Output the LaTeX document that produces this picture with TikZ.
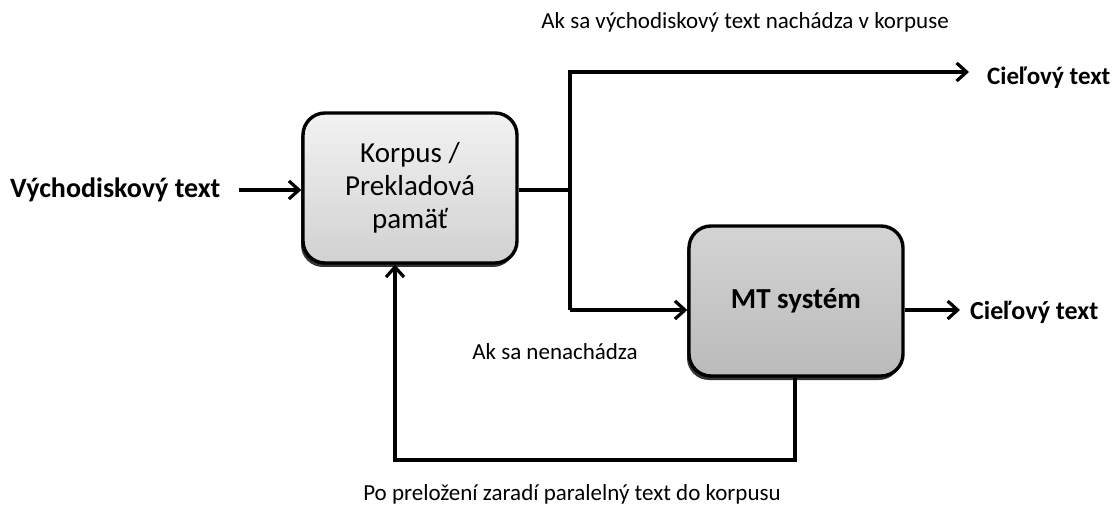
\documentclass[tikz,border=0pt]{standalone}
\usepackage{fontspec}
\setmainfont{Carlito}
\usetikzlibrary{arrows.meta,shadows}
\begin{document}
\begin{tikzpicture}[x=1pt,y=-1pt,
  flow/.style={line width=3.6pt,-{Straight Barb[length=10pt,width=18pt,line width=3.2pt]}},
  link/.style={line width=3.6pt},
  block/.style={draw,line width=3.4pt,rounded corners=22pt,minimum width=214pt,
    minimum height=150pt,align=center,
    drop shadow={shadow xshift=-2pt,shadow yshift=-4pt,fill=black!80,opacity=1}},
  io/.style={font=\fontsize{28}{32}\selectfont\bfseries,inner sep=0pt},
  note/.style={font=\fontsize{23}{27}\selectfont,inner sep=0pt}]
\useasboundingbox (0,0) rectangle (1118,510);
% processing blocks
\node[block,top color=black!5,bottom color=black!18,
  font=\fontsize{29}{33}\selectfont] (corp) at (410,188) {Korpus /\\Prekladová\\pamäť};
\node[block,top color=black!17,bottom color=black!27,
  font=\fontsize{29}{33}\selectfont\bfseries] (mt) at (796,301) {MT systém};
% inputs and outputs
\node[io,anchor=west] (src) at (10,190) {Východiskový text};
\node[io,anchor=west,font=\fontsize{25}{29}\selectfont\bfseries] (out1) at (987,78) {Cieľový text};
\node[io,anchor=west,font=\fontsize{26}{30}\selectfont\bfseries] (out2) at (970,312) {Cieľový text};
% branch points
\coordinate (fork) at (570,190);
\coordinate (top) at (570,72);
\coordinate (bot) at (570,310);
\coordinate (fbA) at (795,460);
\coordinate (fbB) at (395,460);
% connectors
\draw[flow] ([xshift=-62pt]corp.west|-src) -- (corp.west|-src);
\draw[link] (corp.east|-fork) -- (fork);
\draw[flow] (bot) -- (top) -- ([xshift=-18pt]out1.west|-top);
\draw[flow] (bot) -- (mt.west|-bot);
\draw[flow] (mt.east|-bot) -- ([xshift=-10pt]out2.west|-bot);
\draw[flow] (mt.south-|fbA) -- (fbA) -- (fbB) -- (corp.south-|fbB);
% labels
\node[note] (lblA) at (745,22) {Ak sa východiskový text nachádza v korpuse};
\node[note] (lblB) at (555,352) {Ak sa nenachádza};
\node[note] (lblC) at (572,494) {Po preložení zaradí paralelný text do korpusu};
\end{tikzpicture}
\end{document}
